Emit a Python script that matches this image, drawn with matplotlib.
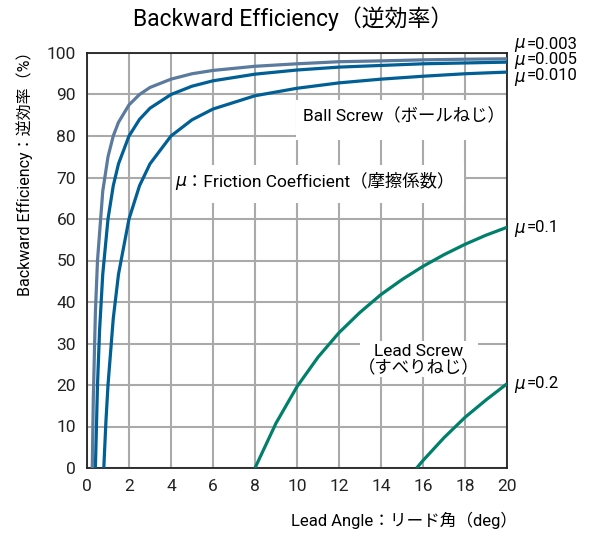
import matplotlib
matplotlib.use("Agg")
import matplotlib.pyplot as plt
from matplotlib.patches import Rectangle

plt.rcParams['font.family'] = ['Roboto', 'Noto Sans CJK JP', 'DejaVu Sans']

# values (lead angle in deg, efficiency in %)
x_b003 = [0.25, 0.3, 0.4, 0.5, 0.75, 1, 1.25, 1.5, 2, 2.5, 3, 4, 5, 6, 8, 10, 12, 14, 16, 18, 20]
y_b003 = [0, 16.7, 37.5, 50, 66.7, 75, 80, 83.3, 87.5, 90, 91.7, 93.7, 95.0, 95.8, 96.8, 97.4, 97.9, 98.1, 98.35, 98.5, 98.6]

x_b005 = [0.4, 0.5, 0.6, 0.75, 1, 1.25, 1.5, 2, 2.5, 3, 4, 5, 6, 8, 10, 12, 14, 16, 18, 20]
y_b005 = [0, 20, 33.3, 46.7, 60, 68, 73.3, 80, 84, 86.7, 90, 92.0, 93.3, 94.9, 95.9, 96.6, 97.0, 97.4, 97.6, 97.8]

x_b010 = [0.8, 0.9, 1, 1.25, 1.5, 2, 2.5, 3, 4, 5, 6, 8, 10, 12, 14, 16, 18, 20]
y_b010 = [0, 11.1, 20, 36, 46.7, 60, 68, 73.3, 80, 83.9, 86.5, 89.7, 91.5, 92.8, 93.7, 94.4, 95.0, 95.4]

x_l01 = [8, 9, 10, 11, 12, 13, 14, 15, 16, 17, 18, 19, 20]
y_l01 = [0, 10.8, 19.6, 26.7, 32.6, 37.5, 41.8, 45.4, 48.6, 51.4, 53.9, 56.1, 58.0]

x_l02 = [15.7, 16, 17, 18, 19, 20]
y_l02 = [0, 1.8, 7.3, 12.2, 16.4, 20.3]

# the three ball-screw labels sit stacked at the top right, the two lead-screw ones apart
ball_mu = ['=0.003', '=0.005', '=0.010']
lead_mu = ['=0.1', '=0.2']
lead_mu_y = [228, 384]   # pixel rows

xticks = list(range(0, 21, 2))
yticks = list(range(0, 101, 10))

c_light = '#5a7a9e'
c_blue = '#005f94'
c_green = '#00806b'
W, H = 589, 534

fig = plt.figure(figsize=(W / 100, H / 100), dpi=100)
ax = fig.add_axes([87 / W, 1 - 468 / H, 420 / W, 415 / H])

for xs, ys, c in [(x_b003, y_b003, c_light), (x_b005, y_b005, c_blue),
                  (x_b010, y_b010, c_blue), (x_l01, y_l01, c_green),
                  (x_l02, y_l02, c_green)]:
    ax.plot(xs, ys, color=c, lw=2.3, solid_capstyle='butt', zorder=3)

ax.set_xlim(0, 20)
ax.set_ylim(0, 100)
ax.set_xticks(xticks)
ax.set_yticks(yticks)
ax.tick_params(length=0, labelsize=12.5, pad=8, colors='#222222')
ax.grid(True, color='#aaaaaa', lw=1.5)
ax.set_axisbelow(True)
for s in ax.spines.values():
    s.set_linewidth(1.3)
    s.set_color('#222222')

# white boxes behind the annotations, hiding the grid
for bx, by, bw, bh in [(9.95, 79.0, 10.05, 9.7), (4.05, 63.9, 13.9, 9.1), (13.0, 22.0, 5.6, 8.7)]:
    ax.add_patch(Rectangle((bx, by), bw, bh, facecolor='white', edgecolor='none', zorder=2))

ax.text(19.9, 84.8, 'Ball Screw（ボールねじ）', ha='right', va='center', fontsize=12.5, zorder=4)
ax.text(4.2, 69.2, 'μ', ha='left', va='center', fontsize=12.5, style='italic',
        family='DejaVu Sans', zorder=4)
ax.text(4.7, 69.2, '：Friction Coefficient（摩擦係数）', ha='left', va='center', fontsize=12.5, zorder=4)
ax.text(15.8, 26.0, 'Lead Screw\n（すべりねじ）', ha='center', va='center', fontsize=12.5,
        linespacing=1.05, zorder=4)

# right-hand curve labels
fig.text(514 / W, 1 - 60 / H, '\n'.join(['μ'] * len(ball_mu)), ha='left', va='center',
         fontsize=12, style='italic', family='DejaVu Sans', linespacing=0.92)
fig.text(527 / W, 1 - 60 / H, '\n'.join(ball_mu), ha='left', va='center',
         fontsize=12, linespacing=1.02)
for lab, py in zip(lead_mu, lead_mu_y):
    fig.text(514 / W, 1 - py / H, 'μ', ha='left', va='center', fontsize=12,
             style='italic', family='DejaVu Sans')
    fig.text(527 / W, 1 - py / H, lab, ha='left', va='center', fontsize=12)

fig.text(293 / W, 1 - 19 / H, 'Backward Efficiency（逆効率）', ha='center', va='center', fontsize=16.5)
fig.text(25 / W, 1 - 43 / H, 'Backward Efficiency：逆効率（%）', rotation=90,
         ha='center', va='top', fontsize=11.5)
fig.text(517 / W, 1 - 520 / H, 'Lead Angle：リード角（deg）', ha='right', va='center', fontsize=12)

fig.savefig('out.png', dpi=100)
